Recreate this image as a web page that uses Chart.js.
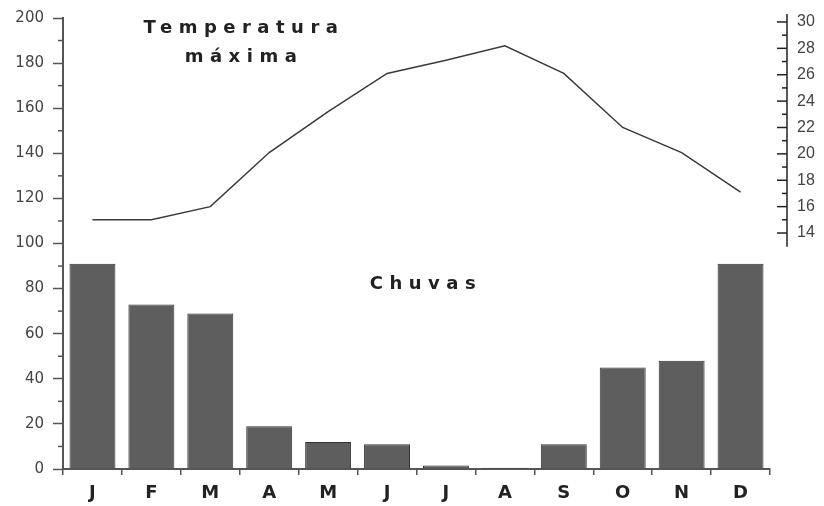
<!DOCTYPE html>
<html>
<head>
<meta charset="utf-8">
<script src="https://cdn.jsdelivr.net/npm/chart.js@4/dist/chart.umd.min.js"></script>
<style>
  html, body { margin: 0; padding: 0; background: #fff; }
  canvas { display: block; }
</style>
</head>
<body>
<canvas id="climaChart" width="824" height="506"></canvas>
<script>
const meses = ['J', 'F', 'M', 'A', 'M', 'J', 'J', 'A', 'S', 'O', 'N', 'D'];
const chuvas = [91, 73, 69, 19, 12, 11, 1.5, 0.5, 11, 45, 48, 91];
const temperatura = [15, 15, 16, 20.1, 23.2, 26.1, 27.1, 28.2, 26.1, 22, 20.1, 17.1];
const tempTicks = [14, 16, 18, 20, 22, 24, 26, 28, 30];

// right axis line, minor ticks and the text labels
const extras = {
    id: 'extras',
    afterDraw(chart) {
        const ctx = chart.ctx;
        const area = chart.chartArea;
        const yL = chart.scales.y;
        const yT = chart.scales.yT;

        ctx.save();
        // minor ticks on left axis
        ctx.strokeStyle = '#555';
        ctx.lineWidth = 1.5;
        for (let v = 10; v < 200; v += 20) {
            const py = yL.getPixelForValue(v);
            ctx.beginPath();
            ctx.moveTo(area.left - 5, py);
            ctx.lineTo(area.left, py);
            ctx.stroke();
        }

        // right temperature axis
        const ax = yT.left + 17;
        ctx.strokeStyle = '#222';
        ctx.lineWidth = 1.5;
        ctx.beginPath();
        ctx.moveTo(ax, yT.getPixelForValue(30.6));
        ctx.lineTo(ax, yT.getPixelForValue(12.95));
        ctx.stroke();
        for (let v = 15; v < 30; v += 2) {
            const py = yT.getPixelForValue(v);
            ctx.beginPath();
            ctx.moveTo(ax - 5, py);
            ctx.lineTo(ax, py);
            ctx.stroke();
        }
        tempTicks.forEach(v => {
            const py = yT.getPixelForValue(v);
            ctx.beginPath();
            ctx.moveTo(ax - 10, py);
            ctx.lineTo(ax, py);
            ctx.stroke();
        });

        // titles
        ctx.fillStyle = '#222';
        ctx.font = 'bold 18px "DejaVu Sans"';
        ctx.textAlign = 'center';
        ctx.textBaseline = 'middle';
        ctx.letterSpacing = '6.5px';
        ctx.fillText('Temperatura', area.left + 181, 28);
        ctx.fillText('máxima', area.left + 181, 57);
        ctx.fillText('Chuvas', area.left + 363, 284);
        ctx.restore();
    }
};

new Chart(document.getElementById('climaChart'), {
    type: 'bar',
    data: {
        labels: meses,
        datasets: [{
            type: 'line',
            data: temperatura,
            yAxisID: 'yT',
            borderColor: '#3a3a3a',
            borderWidth: 1.5,
            pointRadius: 0,
            tension: 0,
            order: 0
        }, {
            type: 'bar',
            data: chuvas,
            yAxisID: 'y',
            backgroundColor: '#5e5e5e',
            borderColor: '#333',
            borderWidth: 1,
            barPercentage: 0.78,
            categoryPercentage: 1,
            order: 1
        }]
    },
    options: {
        responsive: false,
        animation: false,
        layout: {
            padding: { top: 18, left: 0, right: 0, bottom: 0 }
        },
        scales: {
            x: {
                grid: {
                    display: true,
                    drawOnChartArea: false,
                    tickLength: 6,
                    color: '#555',
                    lineWidth: 1.5
                },
                border: { color: '#555', width: 2 },
                ticks: {
                    font: { family: 'DejaVu Sans', weight: 'bold', size: 18 },
                    color: '#222',
                    padding: 8
                },
                afterFit: s => { s.height = 37; }
            },
            y: {
                position: 'left',
                min: 0,
                max: 200,
                ticks: {
                    stepSize: 10,
                    callback: v => (v % 20 === 0 ? v : ''),
                    font: { family: 'DejaVu Sans', size: 15 },
                    color: '#444',
                    padding: 9
                },
                grid: {
                    drawOnChartArea: false,
                    tickLength: 10,
                    tickWidth: 1.5,
                    tickColor: c => (c.tick && c.tick.value % 20 ? 'rgba(0,0,0,0)' : '#555')
                },
                border: { color: '#555', width: 2 },
                afterFit: s => { s.width = 63; }
            },
            yT: {
                position: 'right',
                min: -3.89,
                max: 30.3,
                afterBuildTicks: s => { s.ticks = tempTicks.map(v => ({ value: v })); },
                ticks: {
                    font: { family: 'Liberation Sans', size: 16 },
                    color: '#444',
                    padding: 3
                },
                grid: {
                    display: true,
                    drawOnChartArea: false,
                    drawTicks: true,
                    tickLength: 24,
                    tickColor: 'rgba(0,0,0,0)'
                },
                border: { display: false },
                afterFit: s => { s.width = 54; }
            }
        },
        plugins: {
            legend: { display: false },
            tooltip: { enabled: false }
        }
    },
    plugins: [extras]
});
</script>
</body>
</html>
